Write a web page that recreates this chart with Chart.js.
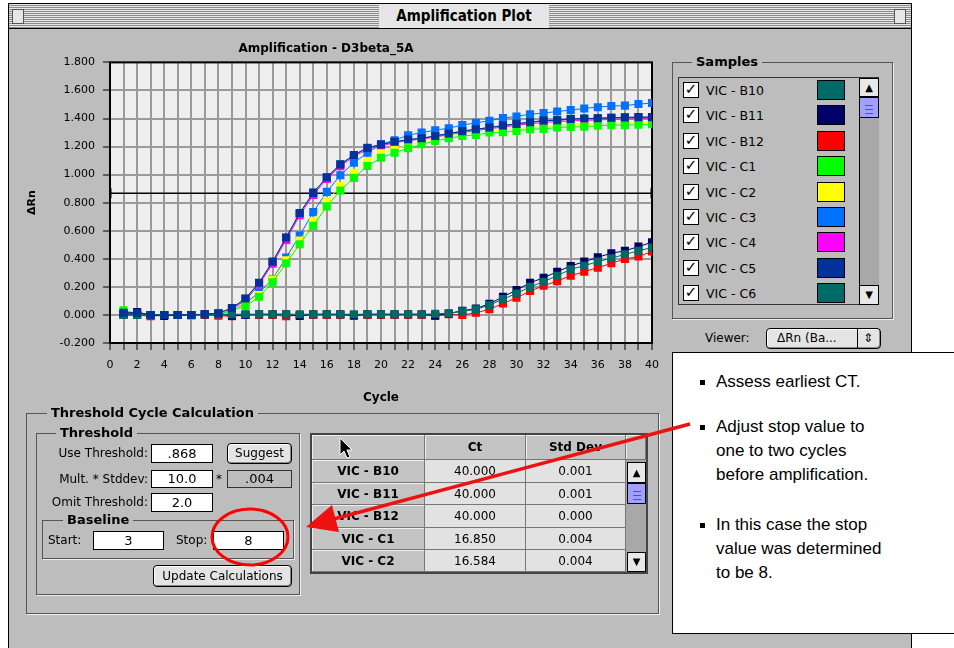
<!DOCTYPE html>
<html lang="en">
<head>
<meta charset="UTF-8">
<title>Amplification Plot</title>
<script src="https://cdn.jsdelivr.net/npm/chart.js"></script>
<style>
  body { margin: 0; width: 954px; height: 648px; overflow: hidden; background: #fff; position: relative;
         font-family: "DejaVu Sans", sans-serif; font-size: 12px; color: #000; }
  .abs { position: absolute; }
  #win { left: 8px; top: 3px; width: 902px; height: 700px; border: 1px solid #000; background: #bdbdbd; }
  #titlebar { left: 9px; top: 4px; width: 902px; height: 24px; border-bottom: 1px solid #000;
              background: repeating-linear-gradient(to bottom, #e6e6e6 0 1px, #8a8a8a 1px 2px); }
  #titletext { left: 370px; top: 0; width: 170px; height: 24px; line-height: 24px; text-align: center;
               background: #e6e6e6; font-family: "DejaVu Sans Condensed", "DejaVu Sans", sans-serif; font-weight: bold; font-size: 15px; }
  .tbox { width: 10px; height: 13px; border: 1px solid #555; background: #e6e6e6; top: 5px; }
  .group { border: 1px solid #555; box-shadow: 1px 1px 0 #eee; }
  .glabel { background: #bdbdbd; font-weight: bold; font-size: 13px; padding: 0 4px; line-height: 14px; }
  .lbl { font-size: 12px; line-height: 14px; white-space: nowrap; }
  .input { background: #fff; border: 1px solid #000; text-align: center; font-size: 13px; box-sizing: border-box; }
  .btn { background: #e4e4e4; border: 1px solid #000; border-radius: 4px; text-align: center; font-size: 12px;
         box-sizing: border-box; box-shadow: inset -1px -1px 0 #888, inset 1px 1px 0 #fff; }
  .cell { box-sizing: border-box; border-right: 1px solid #777; border-bottom: 1px solid #777; text-align: center; font-size: 12px; }
  .rh { background: #c4c4c4; font-weight: bold; box-shadow: inset 1px 1px 0 #eee; }
  .dc { background: #e2e2e2; }
  .sb { background: #e8e8e8; border: 1px solid #000; box-sizing: border-box; text-align: center; font-size: 10px; }
  .thumb { background: #a0a0ff; border: 1px solid #000; box-sizing: border-box;
           background-image: repeating-linear-gradient(to bottom, #a0a0ff 0 3px, #5050c0 3px 4px); background-size: 8px 12px;
           background-repeat: no-repeat; background-position: center; }
  #callout { left: 672px; top: 352px; width: 300px; height: 280px; background: #fff; border: 1px solid #000;
             font-family: "Liberation Sans", Arial, sans-serif; font-size: 17px; }
  #callout .t { position: absolute; left: 43px; line-height: 24px; white-space: nowrap; }
  #callout .b { position: absolute; left: 27px; width: 5px; height: 5px; background: #000; }
</style>
</head>
<body>
<div id="win" class="abs"></div>
<div id="titlebar" class="abs">
  <div class="abs tbox" style="left:3px"></div>
  <div class="abs tbox" style="left:885px"></div>
  <div id="titletext" class="abs">Amplification Plot</div>
</div>

<div class="abs" style="left:0;top:32px;width:670px;height:390px;">
  <canvas id="ampChart" width="670" height="390"></canvas>
</div>

<!-- Samples list -->
<div class="abs group" style="left:672px;top:62px;width:219px;height:255px;"></div>
<div class="abs glabel" style="left:692px;top:55px;">Samples</div>
<div class="abs" style="left:678px;top:77px;width:201px;height:228px;border:1px solid #333;box-sizing:border-box;"></div>
<div id="sampleRows"></div>
<div class="abs" style="left:859px;top:78px;width:19px;height:226px;background:#a8a8a8;border-left:1px solid #000;"></div>
<div class="abs sb" style="left:859px;top:78px;width:20px;height:19px;line-height:17px;">&#9650;</div>
<div class="abs thumb" style="left:859px;top:97px;width:20px;height:21px;"></div>
<div class="abs sb" style="left:859px;top:285px;width:20px;height:20px;line-height:18px;">&#9660;</div>

<div class="abs lbl" style="left:705px;top:331px;">Viewer:</div>
<div class="abs btn" style="left:766px;top:328px;width:115px;height:21px;line-height:19px;text-align:left;padding-left:10px;">&Delta;Rn (Ba...</div>
<div class="abs" style="left:857px;top:329px;width:1px;height:19px;background:#000;"></div>
<div class="abs lbl" style="left:863px;top:331px;">&#8661;</div>

<!-- Threshold Cycle Calculation -->
<div class="abs group" style="left:26px;top:413px;width:631px;height:199px;"></div>
<div class="abs glabel" style="left:47px;top:406px;">Threshold Cycle Calculation</div>
<div class="abs group" style="left:36px;top:433px;width:262px;height:160px;"></div>
<div class="abs glabel" style="left:56px;top:426px;">Threshold</div>

<div class="abs lbl" style="left:40px;top:446px;width:108px;text-align:right;">Use Threshold:</div>
<div class="abs input" style="left:151px;top:444px;width:62px;height:19px;line-height:17px;">.868</div>
<div class="abs btn" style="left:227px;top:443px;width:65px;height:21px;line-height:19px;">Suggest</div>

<div class="abs lbl" style="left:36px;top:472px;width:112px;text-align:right;">Mult. * Stddev:</div>
<div class="abs input" style="left:151px;top:470px;width:62px;height:18px;line-height:16px;">10.0</div>
<div class="abs lbl" style="left:216px;top:472px;">*</div>
<div class="abs" style="left:227px;top:470px;width:65px;height:18px;line-height:16px;border:1px solid #333;box-sizing:border-box;text-align:center;font-size:13px;">.004</div>

<div class="abs lbl" style="left:36px;top:495px;width:112px;text-align:right;">Omit Threshold:</div>
<div class="abs input" style="left:151px;top:493px;width:62px;height:19px;line-height:17px;">2.0</div>

<div class="abs group" style="left:42px;top:520px;width:250px;height:37px;"></div>
<div class="abs glabel" style="left:63px;top:513px;">Baseline</div>
<div class="abs lbl" style="left:48px;top:533px;">Start:</div>
<div class="abs input" style="left:93px;top:531px;width:71px;height:19px;line-height:17px;">3</div>
<div class="abs lbl" style="left:176px;top:533px;">Stop:</div>
<div class="abs input" style="left:213px;top:531px;width:71px;height:19px;line-height:17px;">8</div>
<div class="abs btn" style="left:153px;top:565px;width:139px;height:22px;line-height:20px;">Update Calculations</div>

<!-- Ct table -->
<div id="ctTable" class="abs" style="left:310px;top:433px;width:338px;height:141px;border:2px solid #444;box-sizing:border-box;background:#bdbdbd;"></div>

<!-- callout -->
<div id="callout" class="abs">
  <div class="b" style="top:27px"></div><div class="t" style="top:17px">Assess earliest CT.</div>
  <div class="b" style="top:72px"></div><div class="t" style="top:62px">Adjust stop value to<br>one to two cycles<br>before amplification.</div>
  <div class="b" style="top:170px"></div><div class="t" style="top:160px">In this case the stop<br>value was determined<br>to be 8.</div>
</div>

<svg class="abs" style="left:0;top:0;" width="954" height="648">
  <ellipse cx="250" cy="537" rx="38" ry="28" fill="none" stroke="#ff0000" stroke-width="3"/>
  <line x1="690" y1="424" x2="330" y2="520" stroke="#ee1111" stroke-width="3.5"/>
  <polygon points="306,527 339,532 332,505" fill="#ee1111"/>
  <polygon points="340,438 340,455 344,451 347,458 350,457 347,450 352,450" fill="#000" stroke="#fff" stroke-width="1"/>
</svg>

<script>
// cycles 1..40
const cycles = Array.from({length: 40}, (_, i) => i + 1);
const xTicks = [0, 40, 1];          // min, max, step
const yTicks = [-0.2, 1.8, 0.2];    // min, max, step
const threshold = 0.868;

const sampleNames = ['VIC - B10', 'VIC - B11', 'VIC - B12', 'VIC - C1', 'VIC - C2', 'VIC - C3', 'VIC - C4', 'VIC - C5', 'VIC - C6'];
const sampleColors = ['#006a66', '#000066', '#ff0000', '#00ff00', '#ffff00', '#0070ff', '#ff00ff', '#003399', '#006a66'];

const vicB10 = [0.000, 0.000, 0.000, 0.000, 0.000, 0.000, 0.005, 0.005, 0.005, 0.005,
                0.005, 0.005, 0.005, 0.005, 0.005, 0.005, 0.005, 0.005, 0.005, 0.005,
                0.005, 0.005, 0.005, 0.008, 0.012, 0.026, 0.040, 0.070, 0.113, 0.153,
                0.200, 0.237, 0.280, 0.325, 0.351, 0.380, 0.404, 0.432, 0.457, 0.480];
const vicB11 = [0.010, 0.020, 0.000, -0.008, 0.000, 0.000, 0.005, 0.008, -0.005, 0.000,
                0.005, 0.005, 0.005, -0.008, 0.005, 0.005, 0.005, -0.005, 0.005, 0.005,
                0.005, 0.005, 0.005, -0.005, 0.010, 0.030, 0.045, 0.080, 0.129, 0.177,
                0.229, 0.265, 0.308, 0.349, 0.380, 0.411, 0.440, 0.457, 0.487, 0.518];
const vicB12 = [0.000, 0.000, -0.010, 0.000, 0.000, 0.000, 0.000, -0.005, -0.010, 0.000,
                0.000, 0.000, -0.010, 0.000, 0.000, 0.000, 0.000, 0.000, 0.000, 0.000,
                0.000, 0.000, 0.000, -0.005, 0.005, 0.000, 0.015, 0.040, 0.081, 0.122,
                0.170, 0.208, 0.241, 0.280, 0.308, 0.337, 0.368, 0.399, 0.416, 0.452];
const vicC1 = [0.034, 0.010, 0.000, 0.000, 0.000, -0.005, 0.000, 0.005, 0.034, 0.062,
               0.129, 0.232, 0.368, 0.504, 0.635, 0.774, 0.887, 0.977, 1.061, 1.120,
               1.156, 1.188, 1.216, 1.240, 1.259, 1.276, 1.283, 1.300, 1.302, 1.312,
               1.324, 1.326, 1.336, 1.340, 1.342, 1.348, 1.353, 1.353, 1.355, 1.360];
const vicC2 = [0.030, 0.010, 0.000, 0.000, 0.000, 0.000, 0.000, 0.008, 0.036, 0.072,
               0.142, 0.250, 0.390, 0.530, 0.670, 0.810, 0.918, 1.013, 1.097, 1.153,
               1.180, 1.210, 1.235, 1.256, 1.274, 1.290, 1.300, 1.314, 1.318, 1.328,
               1.338, 1.340, 1.350, 1.355, 1.358, 1.362, 1.366, 1.368, 1.370, 1.375];
const vicC3 = [0.010, 0.005, 0.000, 0.000, 0.000, 0.000, 0.005, 0.008, 0.030, 0.085,
               0.160, 0.255, 0.409, 0.566, 0.733, 0.877, 0.996, 1.085, 1.156, 1.216,
               1.245, 1.281, 1.300, 1.317, 1.331, 1.353, 1.369, 1.384, 1.403, 1.415,
               1.431, 1.439, 1.450, 1.460, 1.472, 1.481, 1.489, 1.492, 1.503, 1.510];
const vicC4 = [0.010, 0.010, 0.000, 0.000, 0.000, 0.000, 0.005, 0.008, 0.042, 0.105,
               0.215, 0.365, 0.535, 0.710, 0.855, 0.970, 1.060, 1.130, 1.180, 1.205,
               1.228, 1.243, 1.253, 1.268, 1.285, 1.300, 1.315, 1.327, 1.340, 1.352,
               1.362, 1.372, 1.378, 1.383, 1.387, 1.390, 1.394, 1.396, 1.398, 1.400];
const vicC5 = [0.015, 0.015, 0.000, 0.000, 0.000, 0.000, 0.005, 0.012, 0.050, 0.117,
               0.230, 0.380, 0.552, 0.726, 0.870, 0.982, 1.073, 1.140, 1.190, 1.215,
               1.235, 1.250, 1.259, 1.276, 1.293, 1.310, 1.324, 1.336, 1.350, 1.362,
               1.374, 1.385, 1.388, 1.397, 1.400, 1.402, 1.406, 1.408, 1.410, 1.410];
const vicC6 = [0.005, 0.000, 0.000, 0.000, 0.000, 0.000, 0.005, 0.010, 0.048, 0.115,
               0.228, 0.378, 0.550, 0.724, 0.872, 0.980, 1.072, 1.140, 1.192, 1.215,
               1.233, 1.248, 1.258, 1.275, 1.292, 1.309, 1.323, 1.335, 1.349, 1.361,
               1.373, 1.384, 1.387, 1.396, 1.399, 1.401, 1.405, 1.407, 1.409, 1.409];
const sampleSeries = [vicB10, vicB11, vicB12, vicC1, vicC2, vicC3, vicC4, vicC5, vicC6];

// Ct results table
const ctRows = ['VIC - B10', 'VIC - B11', 'VIC - B12', 'VIC - C1', 'VIC - C2'];
const ctValues = ['40.000', '40.000', '40.000', '16.850', '16.584'];
const ctStdDev = ['0.001', '0.001', '0.000', '0.004', '0.004'];

// sample list rows
const rowsDiv = document.getElementById('sampleRows');
sampleNames.forEach((name, i) => {
    const y = 82 + i * 25.4;
    rowsDiv.insertAdjacentHTML('beforeend',
        `<div class="abs" style="left:683px;top:${y}px;width:16px;height:16px;background:#fff;border:1px solid #000;box-sizing:border-box;font-size:15px;line-height:13px;text-align:center;font-weight:bold;">&#10003;</div>` +
        `<div class="abs lbl" style="left:706px;top:${y + 2}px;font-size:12.5px;">${name}</div>` +
        `<div class="abs" style="left:817px;top:${y - 2}px;width:28px;height:20px;background:${sampleColors[i]};border:1px solid #000;box-sizing:border-box;"></div>`);
});

// Ct table
const tbl = document.getElementById('ctTable');
const rowY = [0, 25, 48, 70, 93, 115, 137];
function cell(x, y, w, h, cls, txt) {
    tbl.insertAdjacentHTML('beforeend', `<div class="abs cell ${cls}" style="left:${x}px;top:${y}px;width:${w}px;height:${h}px;line-height:${h}px;">${txt}</div>`);
}
cell(0, 0, 113, 25, 'rh', '');
cell(113, 0, 101, 25, 'rh', 'Ct');
cell(214, 0, 100, 25, 'rh', 'Std Dev');
cell(314, 0, 20, 25, 'rh', '');
ctRows.forEach((r, i) => {
    const y = rowY[i + 1], h = rowY[i + 2] - rowY[i + 1];
    cell(0, y, 113, h, 'rh', r);
    cell(113, y, 101, h, 'dc', ctValues[i]);
    cell(214, y, 100, h, 'dc', ctStdDev[i]);
});
tbl.insertAdjacentHTML('beforeend',
    '<div class="abs" style="left:314px;top:25px;width:20px;height:112px;background:#a8a8a8;"></div>' +
    '<div class="abs sb" style="left:315px;top:27px;width:19px;height:21px;line-height:19px;">&#9650;</div>' +
    '<div class="abs thumb" style="left:315px;top:48px;width:19px;height:21px;"></div>' +
    '<div class="abs sb" style="left:315px;top:117px;width:19px;height:20px;line-height:18px;">&#9660;</div>');

// chart
const plotBg = {
    id: 'plotBg',
    beforeDraw(chart) {
        const {ctx, chartArea: a} = chart;
        ctx.save();
        ctx.fillStyle = '#eeeeee';
        ctx.fillRect(a.left, a.top, a.right - a.left, a.bottom - a.top);
        ctx.restore();
    },
    beforeDatasetsDraw(chart) {
        const {ctx, chartArea: a} = chart;
        ctx.save();
        ctx.strokeStyle = '#000';
        ctx.lineWidth = 2;
        ctx.strokeRect(a.left, a.top, a.right - a.left, a.bottom - a.top);
        ctx.restore();
    }
};

const datasets = sampleSeries.map((vals, i) => ({
    label: sampleNames[i],
    data: vals.map((v, j) => ({x: cycles[j], y: v})),
    borderColor: sampleColors[i],
    backgroundColor: sampleColors[i],
    borderWidth: 1,
    pointStyle: 'rect',
    pointRadius: 5.7,
    pointBorderWidth: 0,
    order: i === 7 ? -1 : 0
}));
datasets.push({
    label: 'Threshold',
    data: [{x: xTicks[0], y: threshold}, {x: xTicks[1], y: threshold}],
    borderColor: '#000',
    backgroundColor: '#000',
    borderWidth: 1.5,
    pointStyle: 'line',
    pointRotation: 90,
    pointRadius: 5,
    pointBorderWidth: 3,
    order: 5
});

new Chart(document.getElementById('ampChart'), {
    type: 'line',
    data: { datasets: datasets },
    options: {
        responsive: false,
        animation: false,
        devicePixelRatio: 1,
        layout: { padding: { left: 0, right: 18, top: 0, bottom: 0 } },
        plugins: {
            legend: { display: false },
            tooltip: { enabled: false },
            title: {
                display: true,
                text: 'Amplification - D3beta_5A',
                color: '#000',
                font: { family: 'DejaVu Sans', size: 12, weight: 'bold' },
                padding: { top: 10, bottom: 6 }
            }
        },
        scales: {
            x: {
                type: 'linear',
                min: xTicks[0], max: xTicks[1],
                afterFit: s => { s.height = 79; },
                ticks: {
                    stepSize: xTicks[2], autoSkip: false, maxRotation: 0, padding: 9,
                    color: '#000', font: { family: 'DejaVu Sans', size: 11 },
                    callback: v => (v % 2 === 0 ? v : '')
                },
                grid: { color: '#9a9a9a', lineWidth: 2, tickColor: '#000', tickWidth: 1, tickLength: 7 },
                border: { display: false },
                title: {
                    display: true, text: 'Cycle', color: '#000',
                    font: { family: 'DejaVu Sans', size: 12, weight: 'bold' },
                    padding: { top: 0, bottom: 17 }
                }
            },
            y: {
                min: yTicks[0], max: yTicks[1],
                afterFit: s => { s.width = 110; },
                ticks: {
                    stepSize: yTicks[2], padding: 8, color: '#000',
                    font: { family: 'DejaVu Sans', size: 11 },
                    callback: v => v.toFixed(3)
                },
                grid: { color: '#9a9a9a', lineWidth: 2, tickColor: '#000', tickWidth: 1, tickLength: 7 },
                border: { display: false },
                title: {
                    display: true, text: '\u0394Rn', color: '#000',
                    font: { family: 'DejaVu Sans', size: 11, weight: 'bold' },
                    padding: { top: 26, bottom: 0 }
                }
            }
        }
    },
    plugins: [plotBg]
});
</script>
</body>
</html>
